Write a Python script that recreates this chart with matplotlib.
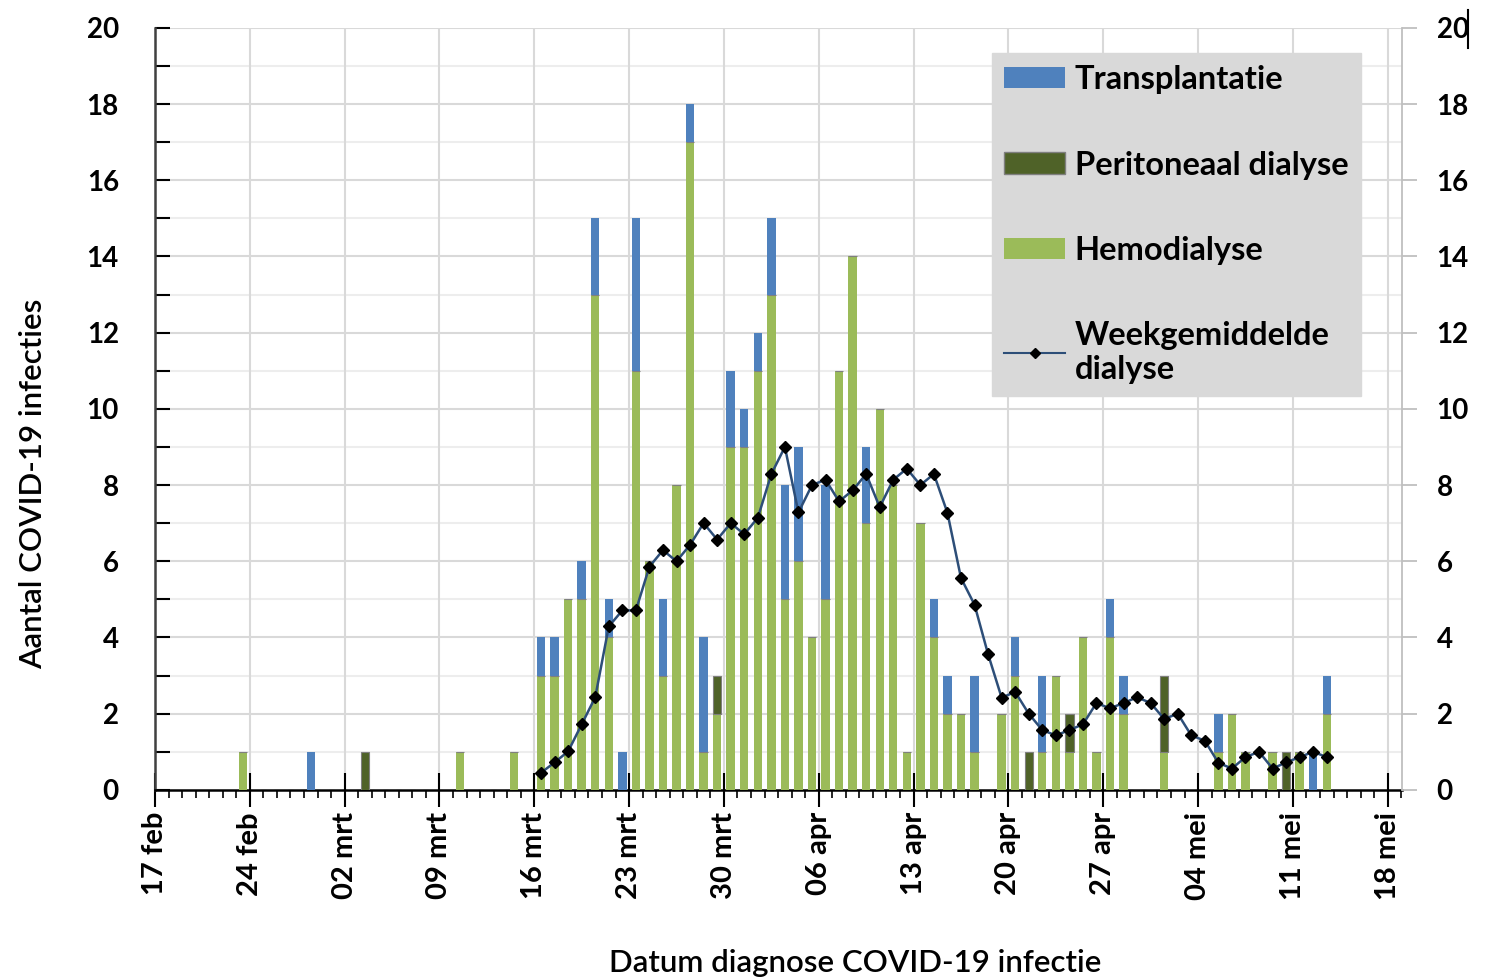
import numpy as np
import pandas as pd
import matplotlib.pyplot as plt
from matplotlib.patches import Patch
from matplotlib.lines import Line2D
from matplotlib.ticker import MultipleLocator

plt.rcParams['font.family'] = ['Lato', 'DejaVu Sans']

# daily counts, 23 feb .. 13 mei 2020
start = '2020-02-23'
hemo = ([1, 0, 0, 0, 0, 0, 0] +
        [0, 0, 0, 0, 0, 0, 0, 0, 0, 1, 0, 0, 0, 1, 0, 3, 3, 5, 5, 13,
         4, 0, 11, 6, 3, 8, 17, 1, 2, 9, 9] +
        [11, 13, 5, 6, 4, 5, 11, 14, 7, 10, 8, 1, 7, 4, 2, 2, 1, 0, 2, 3,
         0, 1, 3, 1, 4, 1, 4, 2, 0, 0] +
        [1, 0, 0, 0, 1, 2, 1, 0, 1, 0, 1, 0, 2])
perit = ([0, 0, 0, 0, 0, 0, 0] +
         [0, 0, 1, 0, 0, 0, 0, 0, 0, 0, 0, 0, 0, 0, 0, 0, 0, 0, 0, 0,
          0, 0, 0, 0, 0, 0, 0, 0, 1, 0, 0] +
         [0, 0, 0, 0, 0, 0, 0, 0, 0, 0, 0, 0, 0, 0, 0, 0, 0, 0, 0, 0,
          1, 0, 0, 1, 0, 0, 0, 0, 0, 0] +
         [2, 0, 0, 0, 0, 0, 0, 0, 0, 1, 0, 0, 0])
transpl = ([0, 0, 0, 0, 0, 1, 0] +
           [0, 0, 0, 0, 0, 0, 0, 0, 0, 0, 0, 0, 0, 0, 0, 1, 1, 0, 1, 2,
            1, 1, 4, 0, 2, 0, 1, 3, 0, 2, 1] +
           [1, 2, 3, 3, 0, 3, 0, 0, 2, 0, 0, 0, 0, 1, 1, 0, 2, 0, 0, 1,
            0, 2, 0, 0, 0, 0, 1, 1, 0, 0] +
           [0, 0, 0, 0, 1, 0, 0, 0, 0, 0, 0, 1, 1])

# weekgemiddelde dialyse, 16 mrt .. 13 mei
avg_start = '2020-03-16'
week_avg = [0.45, 0.72, 1.01, 1.72, 2.43, 4.29, 4.71, 4.71, 5.86, 6.29,
            6.0, 6.43, 7.0, 6.57, 7.0, 6.71, 7.14, 8.29, 9.0, 7.28,
            8.0, 8.14, 7.57, 7.86, 8.29, 7.42, 8.14, 8.43, 8.0, 8.29,
            7.27, 5.56, 4.86, 3.56, 2.42, 2.57, 2.0, 1.57, 1.43, 1.57,
            1.72, 2.28, 2.14, 2.28, 2.43, 2.28, 1.86, 2.0, 1.43, 1.29,
            0.71, 0.56, 0.86, 1.0, 0.56, 0.72, 0.86, 1.0, 0.86]

tick_labels = ['17 feb', '24 feb', '02 mrt', '09 mrt', '16 mrt', '23 mrt', '30 mrt',
               '06 apr', '13 apr', '20 apr', '27 apr', '04 mei', '11 mei', '18 mei']

origin = pd.Timestamp('2020-02-17')
days = pd.date_range(start, periods=len(hemo))
x = (days - origin).days.values + 0.5
xa = (pd.date_range(avg_start, periods=len(week_avg)) - origin).days.values + 0.5

hemo = np.array(hemo)
perit = np.array(perit)
transpl = np.array(transpl)

c_h = '#9BBB59'
c_p = '#4F6228'
c_t = '#4F81BD'

fig = plt.figure(figsize=(14.93, 9.8), dpi=100)
ax = fig.add_axes([0.1038, 0.194, 0.8352, 0.7776])

w = 0.62
ax.bar(x, hemo, w, color=c_h, zorder=3)
ax.bar(x, perit, w, bottom=hemo, color=c_p, edgecolor='#7F7F7F', linewidth=0.8, zorder=3)
ax.bar(x, transpl, w, bottom=hemo + perit, color=c_t, zorder=3)
ax.plot(xa, week_avg, color='#2D4E78', lw=1.8, marker='D', ms=6,
        mfc='black', mec='black', zorder=4)

ax.set_xlim(0, 92.05)
ax.set_ylim(0, 20)

# grid
for v in range(1, 21):
    ax.axhline(v, color='#D9D9D9' if v % 2 == 0 else '#EDEDED', lw=1.5, zorder=1)
for k in range(1, len(tick_labels)):
    ax.axvline(7 * k, color='#D9D9D9', lw=1.5, zorder=1)

ax.set_xticks(np.arange(0, 7 * len(tick_labels), 7))
ax.set_xticklabels(tick_labels, rotation=90, fontsize=21, fontweight='bold')
ax.xaxis.set_minor_locator(MultipleLocator(1))
ax.tick_params(axis='x', which='major', direction='inout', length=24, width=1.5, pad=4)
ax.tick_params(axis='x', which='minor', direction='out', length=6, width=1.2)

ax.set_yticks(range(0, 21, 2))
ax.set_yticklabels([str(v) for v in range(0, 21, 2)], fontsize=20, fontweight='bold')
ax.yaxis.set_minor_locator(MultipleLocator(1))
ax.tick_params(axis='y', which='both', direction='in', length=11, width=1.5, pad=26)

for s in ['top', 'right']:
    ax.spines[s].set_visible(False)
ax.spines['left'].set_linewidth(1.8)
ax.spines['bottom'].set_linewidth(1.8)
ax.spines['left'].set_color('#404040')

ax2 = ax.twinx()
ax2.set_ylim(0, 20)
ax2.set_yticks(range(0, 21, 2))
ax2.set_yticklabels([str(v) for v in range(0, 21, 2)], fontsize=20, fontweight='bold')
ax2.tick_params(axis='y', direction='out', length=11, width=1.3, color='#BFBFBF', pad=14)
for s in ['top', 'left', 'bottom']:
    ax2.spines[s].set_visible(False)
ax2.spines['right'].set_color('#BFBFBF')
ax2.spines['right'].set_linewidth(1.3)

fig.text(0.022, 0.506, 'Aantal COVID-19 infecties', fontsize=22.5, fontweight='semibold',
         rotation=90, ha='center', va='center')
fig.text(0.573, 0.003, 'Datum diagnose COVID-19 infectie', fontsize=22.5,
         fontweight='semibold', ha='center', va='bottom')

handles = [Patch(facecolor=c_t), Patch(facecolor=c_p, edgecolor='#7F7F7F'),
           Patch(facecolor=c_h),
           Line2D([], [], color='#2D4E78', lw=1.5, marker='D', ms=5, mfc='black', mec='black')]
labels = ['Transplantatie', 'Peritoneaal dialyse', 'Hemodialyse', 'Weekgemiddelde\ndialyse']
leg = ax2.legend(handles, labels, loc='upper left', bbox_to_anchor=(0.6712, 0.967),
                 frameon=True, fancybox=False, facecolor='#D9D9D9', edgecolor='#D9D9D9',
                 framealpha=1, prop={'size': 23.5, 'weight': 'bold'},
                 handlelength=1.85, handleheight=0.62, handletextpad=0.3,
                 labelspacing=1.72, borderpad=0.38, borderaxespad=0)

# cursor mark next to the top right label
fig.add_artist(Line2D([0.9833, 0.9833], [0.951, 0.99], color='black', lw=1.5))

fig.savefig('out.png', dpi=100)
